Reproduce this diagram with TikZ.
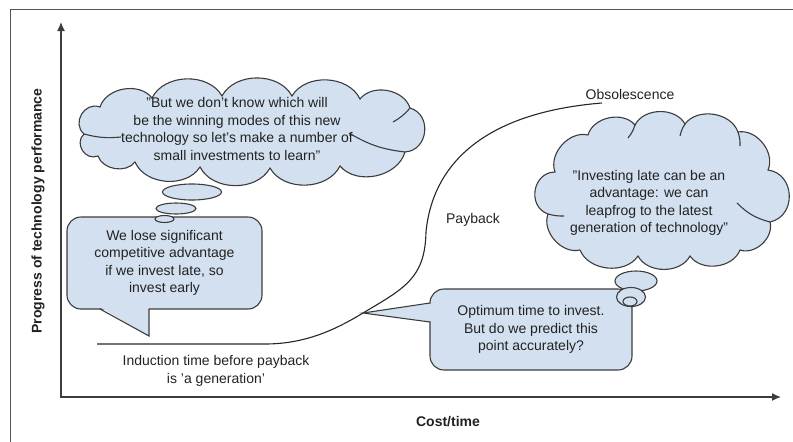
\documentclass[tikz,border=0pt]{standalone}
\usepackage{fontspec}
\setmainfont{Liberation Sans}
\usetikzlibrary{shapes.geometric,arrows.meta}
\definecolor{fillblue}{HTML}{D3E0F0}
\definecolor{edgec}{HTML}{3C3C3C}
\definecolor{framec}{HTML}{555555}
\definecolor{textc}{HTML}{222222}
\begin{document}
\begin{tikzpicture}[x=1pt,y=-1pt,
  font=\fontsize{14}{17.5}\selectfont, text=textc,
  shapeline/.style={draw=edgec, line width=1.1pt},
  bubblefill/.style={shapeline, fill=fillblue},
  puff/.style={bend left=62},
  endpuff/.style={bend left=80, looseness=1.35},
  callbox/.style={bubblefill, rounded corners=14pt, inner sep=0pt, align=center},
  thought/.style={bubblefill, ellipse, inner sep=0pt},
  plaintext/.style={align=center, inner sep=0pt},
  axislabel/.style={font=\fontsize{14}{17}\selectfont\bfseries, inner sep=0pt},
  axisline/.style={draw=edgec, line width=1.4pt},
  curveline/.style={draw=black!85, line width=1.1pt}]
\useasboundingbox (0,0) rectangle (793,442);
% outer frame
\draw[framec, line width=1pt] (10,442) -- (10,9) -- (793,9);
% axes
\coordinate (O) at (61,397);
\coordinate (ytop) at (61,22);
\coordinate (xend) at (781,397);
\draw[axisline, {Latex[length=9pt,width=8pt]}-{Latex[length=9pt,width=8pt]}] (ytop) -- (O) -- (xend);
\node[axislabel, rotate=90] (ylab) at (38,211) {Progress of technology performance};
\node[axislabel] (xlab) at (448,422) {Cost/time};
% curve
\coordinate (c0) at (97,344);
\coordinate (c1) at (265,344);
\coordinate (tip) at (363,313);
\coordinate (mid) at (426,232);
\coordinate (obs) at (602,103);
\draw[curveline] (c0) -- (c1) .. controls (305,344) and (335,330) .. (tip)
  .. controls (405,288) and (425,278) .. (mid)
  .. controls (430,190) and (455,115) .. (obs);
\node[plaintext] (obslab) at (630,94) {Obsolescence};
\node[plaintext] (paylab) at (473,220) {Payback};
\node[plaintext] (indlab) at (216,371) {Induction time before payback\\is 'a generation'};
% top-left cloud
\draw[bubblefill] (84,134) to[endpuff] (100,107) to[puff] (152,98) to[puff] (222,96)
  to[puff] (292,96) to[puff] (360,99) to[puff] (410,108) to[endpuff] (405,152)
  to[puff] (340,166) to[puff] (270,168) to[puff] (200,167) to[puff] (135,162)
  to[puff] (98,156) to[endpuff] (84,134);
\draw[shapeline] (84,134) to[bend right=10] (121,137);
\draw[shapeline] (405,152) to[bend left=12] (349,133);
\draw[shapeline] (410,108) to[bend left=10] (393,122);
\node[plaintext] (cl1text) at (237,129) {"But we don't know which will\\be the winning modes of this new\\technology so let's make a number of\\small investments to learn"};
% left callout
\node[callbox, minimum width=195pt, minimum height=92pt] (b1) at (164.5,263) {We lose significant\\competitive advantage\\if we invest late, so\\invest early};
\coordinate (b1tip) at (149,336);
\fill[fillblue] (100.5,307.5) -- (b1tip) -- (148.5,307.5) -- cycle;
\draw[shapeline, line join=miter] (100,309) -- (b1tip) -- (149,309);
\node[thought, minimum width=59pt, minimum height=16pt] (e1) at (192,192) {};
\node[thought, minimum width=40pt, minimum height=11pt] (e2) at (176,208.5) {};
\node[thought, minimum width=19pt, minimum height=7pt] (e3) at (164.5,219) {};
% right cloud
\draw[bubblefill] (548,214) to[endpuff] (555,172) to[puff] (588,135) to[puff] (635,125)
  to[puff] (685,124) to[puff] (738,132) to[puff] (768,170) to[endpuff] (770,222)
  to[puff] (740,250) to[puff] (690,256) to[puff] (638,256) to[puff] (580,250)
  to[puff] (548,214);
\draw[shapeline] (548,214) to[bend right=8] (564,216);
\draw[shapeline] (770,222) to[bend left=15] (737,203);
\draw[shapeline] (635,125) to[bend left=10] (628,138);
\draw[shapeline] (685,124) to[bend right=10] (680,136);
\draw[shapeline] (738,132) to[bend left=10] (740,146);
\node[plaintext] (cl2text) at (649,203) {"Investing late can be an\\advantage: we can\\leapfrog to the latest\\generation of technology"};
% right callout
\node[callbox, minimum width=202pt, minimum height=81pt] (b2) at (531,329.5) {Optimum time to invest.\\But do we predict this\\point accurately?};
\fill[fillblue] (431.5,303.5) -- (tip) -- (431.5,321.5) -- cycle;
\draw[shapeline, line join=miter] (430,303) -- (tip) -- (430,322);
\node[thought, minimum width=42pt, minimum height=20pt] (r1) at (636,281) {};
\node[thought, minimum width=29pt, minimum height=19pt] (r2) at (631,297) {};
\node[thought, minimum width=14pt, minimum height=9pt] (r3) at (630,301.5) {};
\end{tikzpicture}
\end{document}
